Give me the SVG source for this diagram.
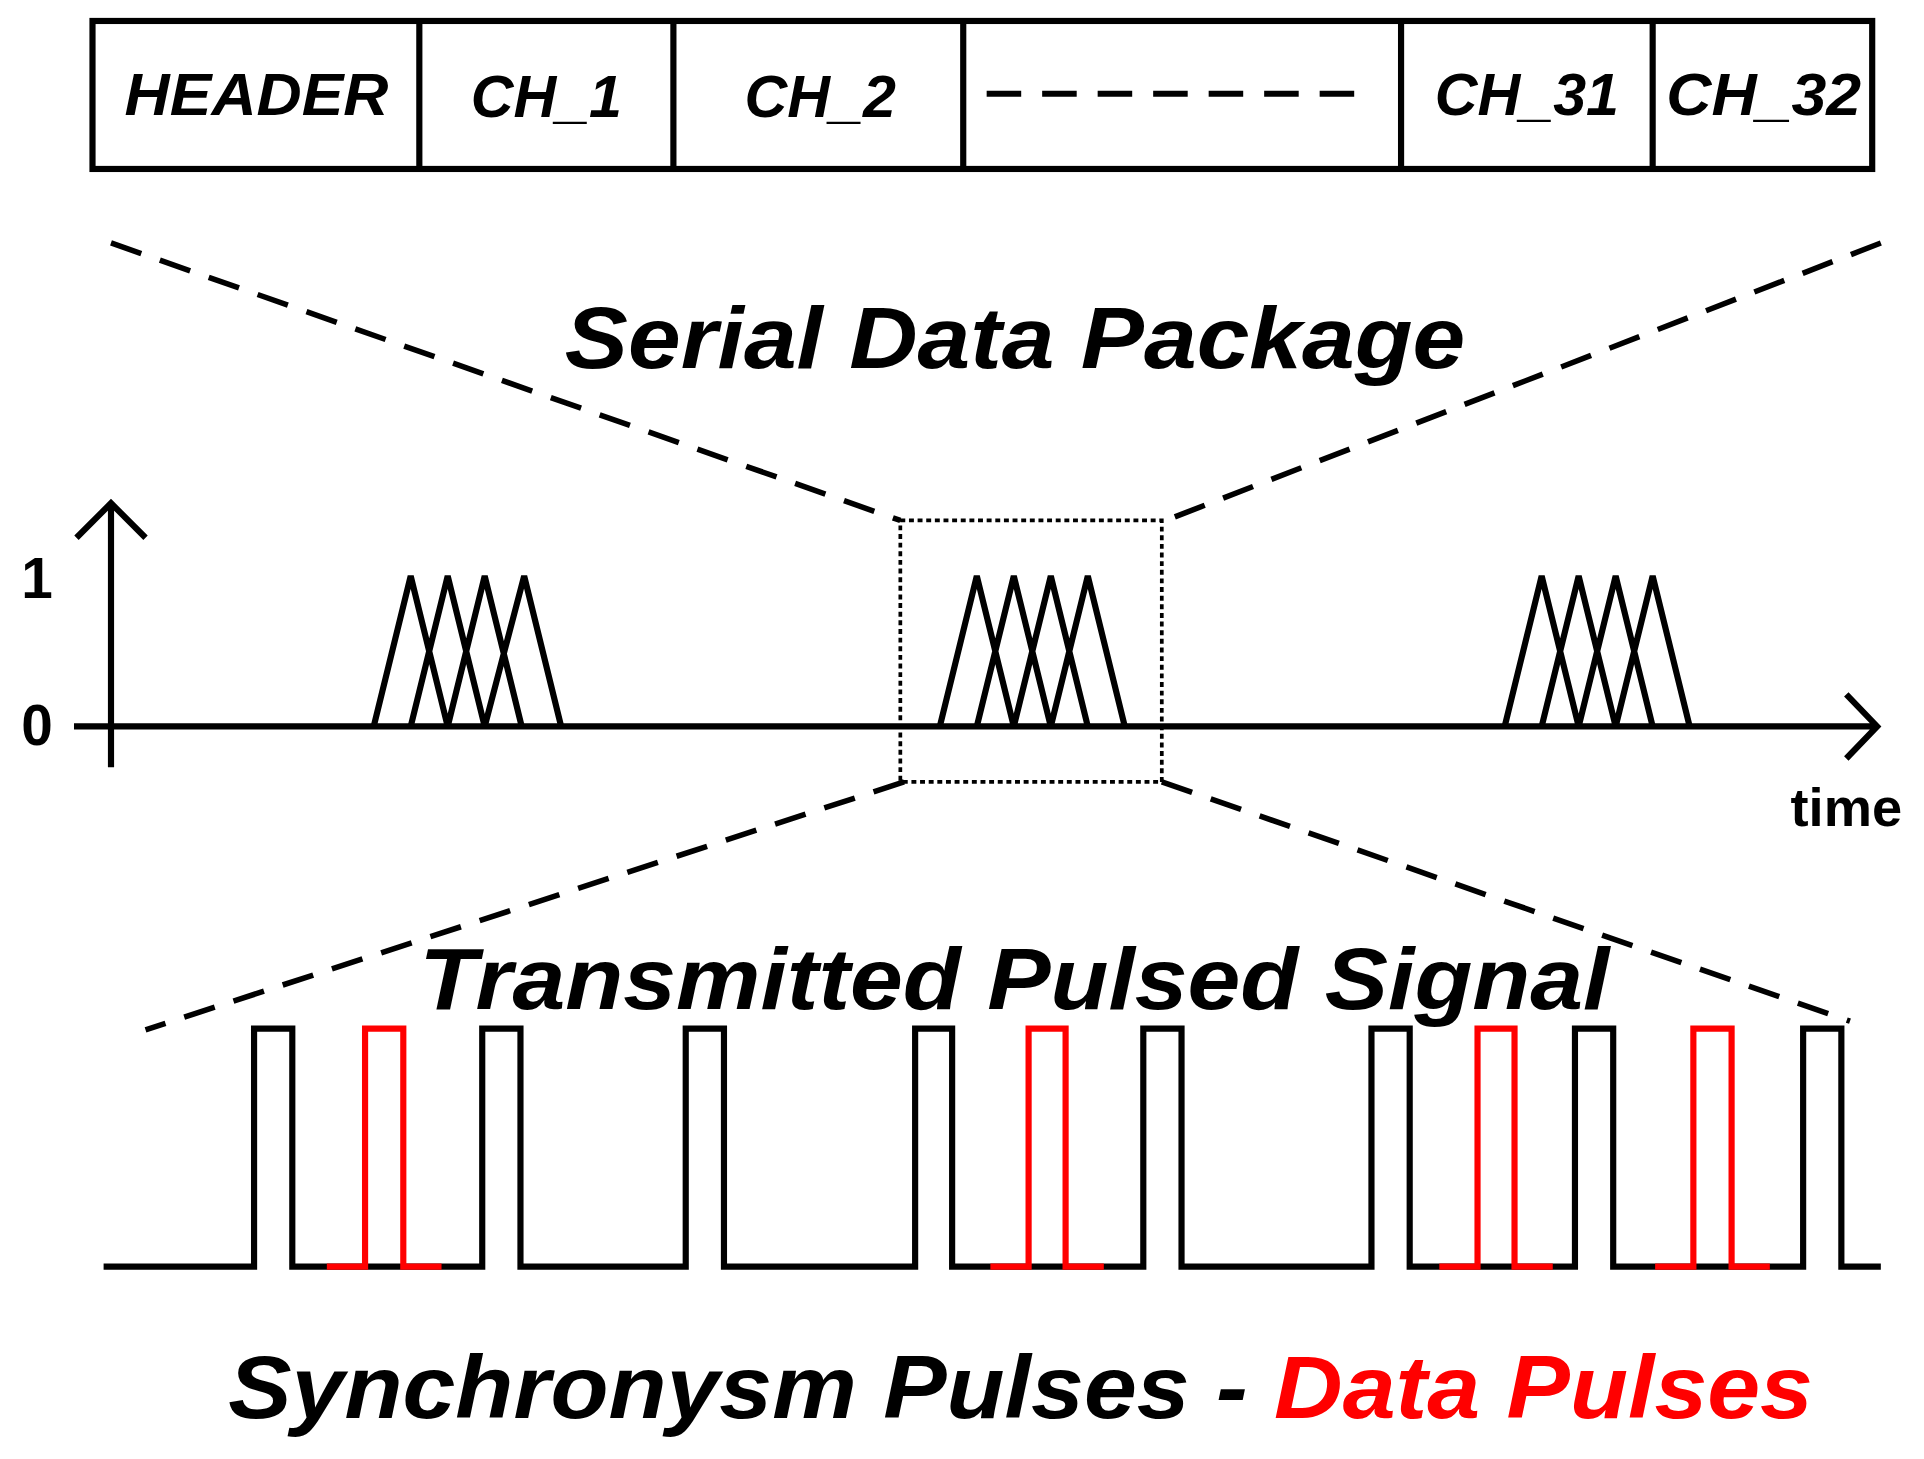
<svg xmlns="http://www.w3.org/2000/svg" width="1924" height="1459" viewBox="0 0 1924 1459">
<style>
.t{font-family:"Liberation Sans",Arial,sans-serif;font-weight:bold;font-style:italic}
.n{font-family:"Liberation Sans",Arial,sans-serif;font-weight:bold}
.k{fill:none;stroke:#000;stroke-width:5}
.d{fill:none;stroke:#000;stroke-width:4.5;stroke-dasharray:26 16}
.o{fill:none;stroke:#000;stroke-width:3;stroke-dasharray:4 3}
.r{fill:none;stroke:#f00;stroke-width:5}
</style>
<rect width="1924" height="1459" fill="#fff"/>
<g transform="scale(1.23333)">
<g id="package">
<rect x="75" y="17" width="1443" height="120" class="k"/>
<path class="k" d="M340 17V137M546 17V137M781 17V137M1136 17V137M1340 17V137"/>
<g class="t" font-size="48" text-anchor="middle">
<text x="208" y="93" textLength="214" lengthAdjust="spacingAndGlyphs">HEADER</text>
<text x="443" y="95">CH_1</text>
<text x="665" y="95">CH_2</text>
<text x="1238" y="93">CH_31</text>
<text x="1430" y="93" textLength="158" lengthAdjust="spacingAndGlyphs">CH_32</text>
</g>
<path d="M800 76H1112" stroke="#000" stroke-width="5" stroke-dasharray="28 17"/>
</g>
<g id="connectors">
<path class="d" d="M90 197L730 422M1525 197L945 422M733 634L118 835M942 634L1500 828"/>
<rect x="730" y="422" width="212" height="212" class="o"/>
</g>
<text class="t" font-size="70" x="458" y="298" textLength="730" lengthAdjust="spacingAndGlyphs">Serial Data Package</text>
<g id="plot">
<path class="k" d="M90 622V410M62 436L90 408L118 436M60 589H1520M1497 563L1522 589L1497 615"/>
<text class="n" font-size="46" x="30" y="485" text-anchor="middle">1</text>
<text class="n" font-size="46" x="30" y="604" text-anchor="middle">0</text>
<text class="n" font-size="44" x="1497" y="670" text-anchor="middle">time</text>
<path class="k" d="M303 589L333 467L363 589M333 589L363 467L393 589M363 589L393 467L423 589M393 589L425 467L455 589"/>
<path class="k" d="M762 589L792 467L822 589M792 589L822 467L852 589M822 589L852 467L882 589M852 589L882 467L912 589"/>
<path class="k" d="M1220 589L1250 467L1280 589M1250 589L1280 467L1310 589M1280 589L1310 467L1340 589M1310 589L1340 467L1370 589"/>
</g>
<text class="t" font-size="70" x="340" y="818" textLength="965" lengthAdjust="spacingAndGlyphs">Transmitted Pulsed Signal</text>
<g id="pulses">
<path class="k" stroke-width="6" d="M84 1027H206V834H237V1027H391V834H422V1027H556V834H587V1027H742V834H772V1027H927V834H958V1027H1112V834H1143V1027H1277V834H1308V1027H1462V834H1493V1027H1525"/>
<path class="r" d="M265 1027H296V834H327V1027H358M803 1027H834V834H864V1027H895M1167 1027H1198V834H1228V1027H1259M1342 1027H1373V834H1404V1027H1435"/>
</g>
<text class="t" font-size="72" x="185" y="1150" textLength="1285" lengthAdjust="spacingAndGlyphs">Synchronysm Pulses - <tspan fill="#f00">Data Pulses</tspan></text>
</g>
</svg>
